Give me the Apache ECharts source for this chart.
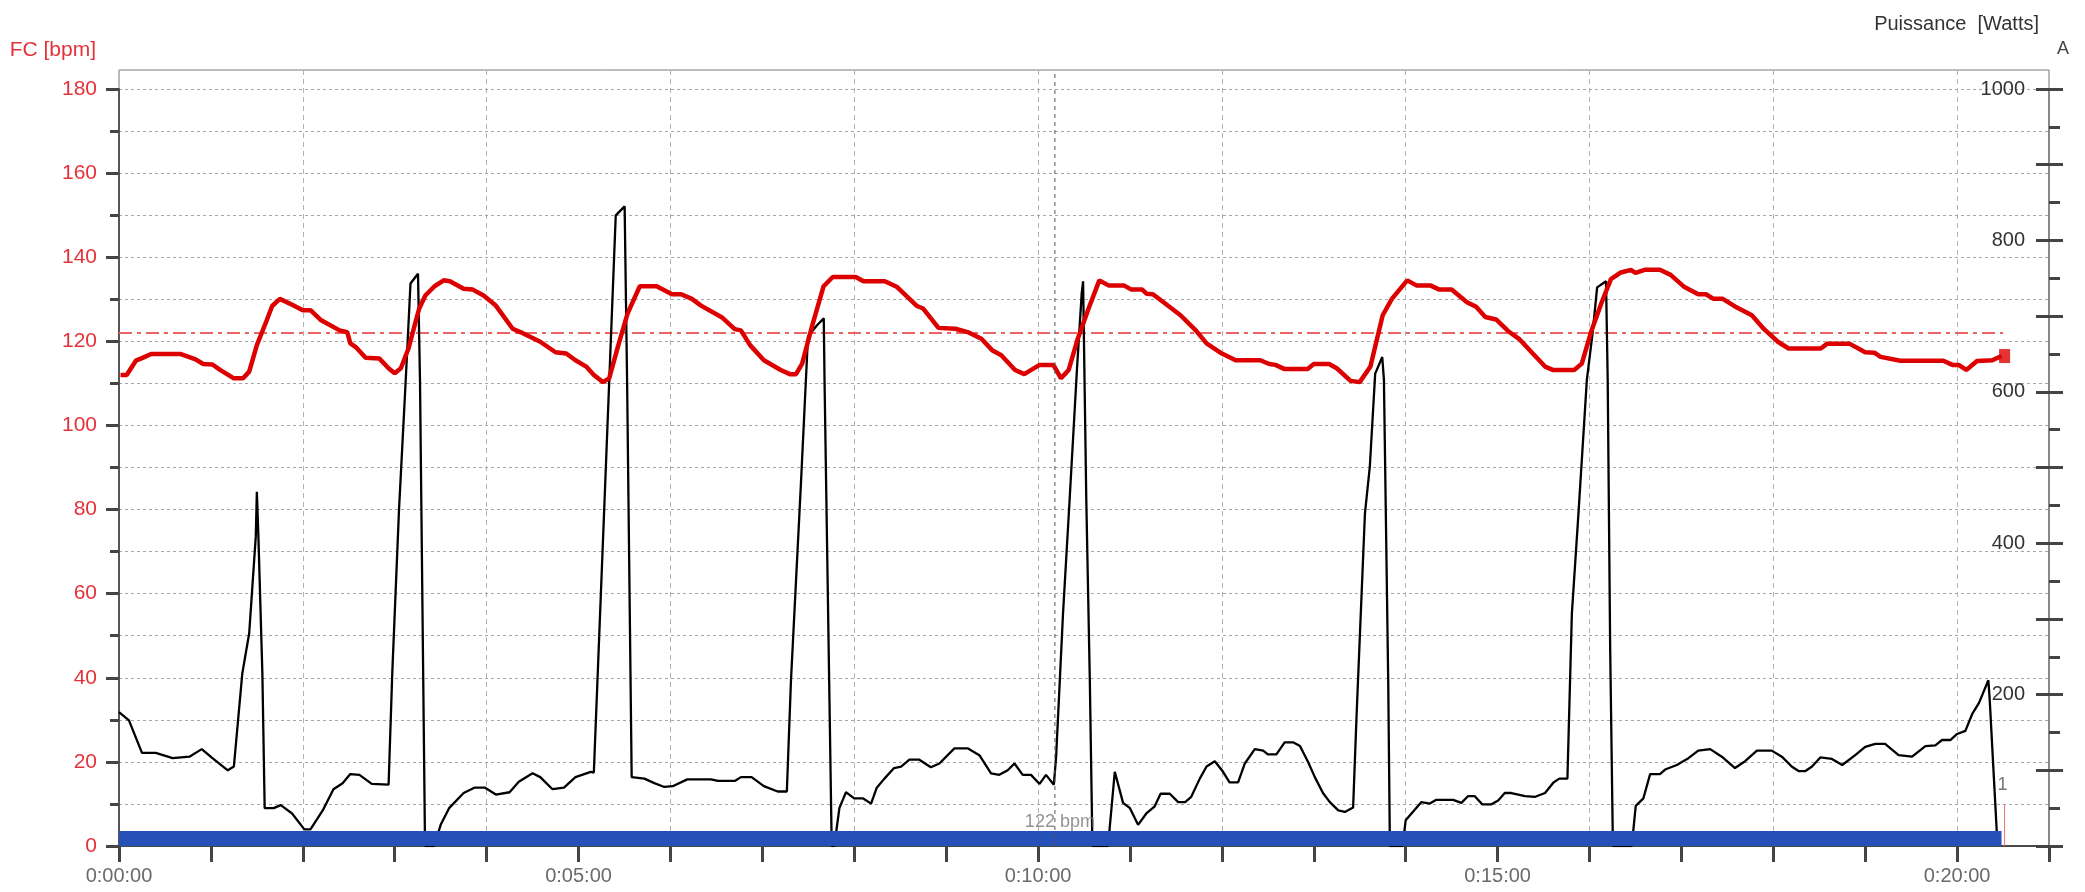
<!DOCTYPE html>
<html><head><meta charset="utf-8">
<script src="https://cdn.jsdelivr.net/npm/echarts@6/dist/echarts.min.js"></script>
<style>html,body{margin:0;padding:0;background:#fff}#c{width:2085px;height:892px}</style>
</head><body><div id="c"></div>
<script>
// ---- data (time in seconds) ----
const hrTime = [1,5,11,15,21,40,50,55,61,66,75,81,85,90,96,100,105,113,120,125,132,144,149,151,155,161,170,176,180,184,189,193,196,200,206,212,216,225,231,238,246,257,262,275,285,292,298,305,310,316,320,326,332,340,351,361,367,374,380,394,402,406,412,421,432,438,442,446,452,460,466,481,486,500,508,521,525,535,546,554,563,570,576,585,591,601,610,615,620,626,633,640,646,656,661,668,671,675,683,693,703,710,720,729,745,751,755,761,776,780,790,795,804,810,817,825,831,841,847,856,862,870,880,886,892,899,907,914,923,931,936,950,955,961,968,974,980,987,990,996,1006,1013,1022,1031,1036,1041,1047,1055,1066,1074,1083,1090,1111,1115,1130,1140,1146,1150,1163,1191,1197,1201,1206,1213,1223,1229];
const hrBpm = [112,112,115.4,116,117,117,115.7,114.6,114.5,113.2,111.2,111.2,112.8,119.1,124.6,128.4,130.1,128.7,127.4,127.4,125,122.6,122.2,119.5,118.5,116.1,115.9,113.6,112.4,113.6,118.3,123.8,127.8,130.9,133.1,134.5,134.3,132.5,132.3,130.9,128.5,123,122.2,119.9,117.4,117.1,115.5,114,112,110.3,111.2,119.1,126.6,133.1,133.1,131.2,131.2,130.1,128.5,125.6,122.9,122.6,119.1,115.5,113.2,112.2,112.2,114.7,123,133.1,135.3,135.3,134.3,134.3,132.9,128.4,127.8,123.2,123,122.2,120.6,117.9,116.7,113.2,112.2,114.4,114.4,111.2,113.2,120.7,127.8,134.5,133.3,133.3,132.3,132.3,131.3,131.2,129,126.2,122.6,119.5,117.1,115.5,115.5,114.6,114.4,113.4,113.4,114.6,114.6,113.6,110.6,110.3,114,126.2,130.1,134.5,133.3,133.3,132.3,132.3,129.3,128.2,125.8,125.2,122.4,120.6,117.1,114,113.2,113.2,114.7,122.2,129.3,134.8,136.3,137,136.3,137,137,135.8,132.9,131.2,131.2,130.1,130.1,128.3,126.2,122.9,119.9,118.3,118.3,119.4,119.4,117.4,117.3,116.3,115.4,115.4,114.4,114.4,113.2,115.3,115.5,116.5];

const powTime = [0,6.5,15,24,35,46,54,61,71,75,80.5,85,89.3,90,91,93.6,95.1,101,105.6,113,121,125,133,140,146,151,157,165,176,178.4,182.8,187.2,190.3,195.2,196.5,199.8,205.7,210,215.5,225,232,239,246,255,261,270,275,283,290.5,298,308,310,317,324.3,330.1,331.7,334.7,343,349.5,356,361.5,371,386.5,391,402,406,413,421,430,436,438.7,445.3,449.8,455.7,460.1,460.6,465.3,467,470.3,474.6,480,485.6,491,494.7,499.7,506,510.6,516,522.5,530,535.6,545.4,554,561.7,569.3,574.7,580.2,584.6,590,595.4,601,605.2,610.3,611.8,616.3,620.6,625.5,628.5,629.4,630.6,631.5,633.8,635.5,645.7,650.1,655.5,660,665.3,670.7,676,680,686,691.5,696,700,705.6,710,715.4,720.8,725,730.6,735,741.5,747,750,755.6,761,766.5,771,776.3,780.7,786,790.5,796,800.3,805.7,808,813.4,816.6,820.1,824.7,825.8,828.6,829.7,838,840,850.3,855.8,860,871,876.4,880.8,885,890,896,900.4,904.7,909,918,924.6,931,936.5,940.3,945.6,948.5,952.8,958.3,962,965,970.8,971.9,973.5,975.3,987.6,990.2,995.2,999.6,1006,1009.4,1017,1024.6,1031,1038.8,1046.4,1055,1061.6,1069.3,1079,1085.6,1092,1096.5,1101,1105.3,1110.7,1118.3,1125,1133.5,1140,1146.6,1153,1161.8,1170.6,1179.3,1185.8,1190.2,1195.6,1200,1205.4,1210,1214.3,1220.4,1221.3,1226.4];
const powWatts = [177,166,123,123,116,118,128,116,100,105,228,281,409,468,409,228,50,50,54,43,22,22,47,75,83,95,94,82,81,228,444,616,743,756,616,0,0,28,50,70,77,77,68,71,85,96,91,75,77,91,98,97,457,833,845,616,91,89,83,78,79,88,88,86,86,91,91,79,72,72,219,483,673,688,697,616,0,0,50,71,63,63,56,77,89,103,105,114,114,104,109,129,129,120,96,94,100,109,94,94,82,94,81,118,307,457,633,730,746,746,457,219,0,0,98,57,50,28,43,52,69,69,58,58,65,89,105,112,98,84,84,109,128,126,121,121,137,137,132,111,91,70,58,47,45,51,175,439,501,624,646,616,219,0,0,34,58,56,61,61,57,66,66,55,55,60,70,70,66,65,70,84,89,89,307,439,616,677,738,746,616,263,0,0,53,63,95,95,101,107,116,126,128,118,103,112,126,126,118,105,99,99,105,117,115,107,120,131,135,135,120,118,132,133,140,140,148,152,175,189,219,193,0];

const avgHr = 122;          // average heart rate (dash-dot line)
const dataEnd = 1230;       // end of recording, s
const zoneEnd = 1229;       // blue zone bar end, s
const cursorTime = 611;     // cursor, s
const cursorText = '122 bpm';
const lapTime = 1231;       // lap marker, s
const lapMarkHeight = 10;   // bpm
const lapText = '1';
const hrAxisName = 'FC [bpm]';
const powAxisName = 'Puissance  [Watts]';

const FONT = '"Liberation Sans", Arial, sans-serif';
const fmtTime = v => {
  const h = Math.floor(v / 3600), m = Math.floor((v % 3600) / 60), s = Math.round(v % 60);
  return h + ':' + String(m).padStart(2, '0') + ':' + String(s).padStart(2, '0');
};
const hrData = hrTime.map((t, i) => [t, hrBpm[i]]);
const powData = powTime.map((t, i) => [t, powWatts[i]]);
const tickStyle = { color: '#444', width: 3 };
const dotted = { color: '#a6a6a6', type: [3, 3], width: 1 };

const chart = echarts.init(document.getElementById('c'), null, { renderer: 'canvas' });
chart.setOption({
  backgroundColor: '#ffffff',
  animation: false,
  textStyle: { fontFamily: FONT },
  grid: [
    { left: 119, right: 36, top: 70, bottom: 46, show: true, borderColor: '#7a7a7a', borderWidth: 1, backgroundColor: 'transparent', outerBoundsMode: 'none' },
    { left: 119, right: 36, top: 89, bottom: 46, outerBoundsMode: 'none' }
  ],
  xAxis: [
    { gridIndex: 0, type: 'value', min: 0, max: 1260, interval: 120,
      axisLine: { show: false }, axisTick: { show: false }, axisLabel: { show: false },
      splitLine: { show: true, lineStyle: { color: '#b3b3b3', type: [5, 4], width: 1 } } },
    { gridIndex: 1, type: 'value', min: 0, max: 1260, interval: 60,
      axisLine: { show: true, lineStyle: { color: '#4a4a4a', width: 2 } },
      axisTick: { show: true, length: 16, lineStyle: tickStyle },
      axisLabel: { show: true, margin: 20, color: '#6a6a6a', fontSize: 20, fontFamily: FONT,
        formatter: v => (v % 300 === 0 ? fmtTime(v) : '') },
      splitLine: { show: false } }
  ],
  yAxis: [
    { gridIndex: 0, type: 'value', min: 0, max: 1, show: false },
    { gridIndex: 1, type: 'value', position: 'left', min: 0, max: 180, interval: 20,
      name: hrAxisName, nameLocation: 'end', nameGap: 28,
      nameTextStyle: { color: '#e5323a', fontSize: 21, fontFamily: FONT, align: 'right', padding: [0, 23, 0, 0] },
      axisLine: { show: true, lineStyle: { color: '#555', width: 2 } },
      axisTick: { show: true, length: 13, lineStyle: tickStyle },
      minorTick: { show: true, splitNumber: 2, length: 9, lineStyle: tickStyle },
      axisLabel: { show: true, margin: 22, color: '#e5323a', fontSize: 21, fontFamily: FONT },
      splitLine: { show: true, lineStyle: dotted },
      minorSplitLine: { show: true, lineStyle: dotted } },
    { gridIndex: 1, type: 'value', position: 'right', min: 0, max: 1000, interval: 100,
      name: powAxisName, nameLocation: 'end', nameGap: 55,
      nameTextStyle: { color: '#333', fontSize: 20, fontFamily: FONT, align: 'right', padding: [0, 10, 0, 0] },
      axisLine: { show: true, lineStyle: { color: '#888', width: 2 } },
      axisTick: { show: true, length: 14, lineStyle: tickStyle },
      minorTick: { show: true, splitNumber: 2, length: 11, lineStyle: tickStyle },
      axisLabel: { show: true, inside: true, margin: 24, color: '#333', fontSize: 20, fontFamily: FONT,
        formatter: v => (v % 200 === 0 && v > 0 ? String(v) : '') },
      splitLine: { show: false } },
    { gridIndex: 1, type: 'value', position: 'right', min: 0, max: 1000, interval: 100,
      axisLine: { show: false },
      axisTick: { show: true, inside: true, length: 13, lineStyle: tickStyle },
      axisLabel: { show: false }, splitLine: { show: false } }
  ],
  graphic: [
    { type: 'text', left: 2057, top: 40, style: { text: 'A', fill: '#444', font: '18px ' + FONT } }
  ],
  series: [
    { name: 'avg', type: 'line', xAxisIndex: 1, yAxisIndex: 1, silent: true, z: 2,
      data: [[0, avgHr], [dataEnd, avgHr]], symbol: 'none',
      lineStyle: { color: '#ec6464', width: 2, type: [13, 5, 4, 5] } },
    { name: 'Puissance', type: 'line', xAxisIndex: 1, yAxisIndex: 2, z: 3, data: powData,
      symbol: 'none', lineStyle: { color: '#000', width: 2.3 } },
    { name: 'FC', type: 'line', xAxisIndex: 1, yAxisIndex: 1, z: 4, data: hrData,
      symbol: 'none', lineStyle: { color: '#dc0000', width: 4.5 } },
    { name: 'zone', type: 'custom', xAxisIndex: 1, yAxisIndex: 1, z: 5, silent: true,
      data: [[0, zoneEnd]],
      renderItem: (params, api) => {
        const p0 = api.coord([api.value(0), 0]);
        const p1 = api.coord([api.value(1), 0]);
        return { type: 'rect', shape: { x: p0[0], y: p0[1] - 15, width: p1[0] - p0[0], height: 15 },
          style: { fill: '#2550b8' } };
      } },
    { name: 'cursor', type: 'line', xAxisIndex: 0, yAxisIndex: 0, z: 6, silent: true,
      data: [[cursorTime, 0], [cursorTime, 1]], symbol: 'none',
      lineStyle: { color: '#555', width: 1, type: [4, 4] } },
    { name: 'cursorLabel', type: 'scatter', xAxisIndex: 1, yAxisIndex: 1, z: 7, silent: true,
      data: [[cursorTime, 0]], symbolSize: 0,
      label: { show: true, position: 'top', distance: 15, offset: [5, 0], formatter: cursorText,
        color: '#777', fontSize: 18, fontFamily: FONT } },
    { name: 'lap', type: 'line', xAxisIndex: 1, yAxisIndex: 1, z: 6, silent: true,
      data: [[lapTime, 0], { value: [lapTime, lapMarkHeight], symbolSize: 0,
        label: { show: true, position: 'top', distance: 10, offset: [-2, 0], formatter: lapText, color: '#777', fontSize: 18, fontFamily: FONT } }],
      showSymbol: true, symbolSize: 0,
      lineStyle: { color: '#f07070', width: 1 } },
    { name: 'end', type: 'scatter', xAxisIndex: 1, yAxisIndex: 1, z: 8, silent: true,
      data: [[hrTime[hrTime.length - 1] + 2, hrBpm[hrBpm.length - 1]]],
      symbol: 'rect', symbolSize: [11, 14], itemStyle: { color: '#dc0000' } }
  ]
});
</script></body></html>
